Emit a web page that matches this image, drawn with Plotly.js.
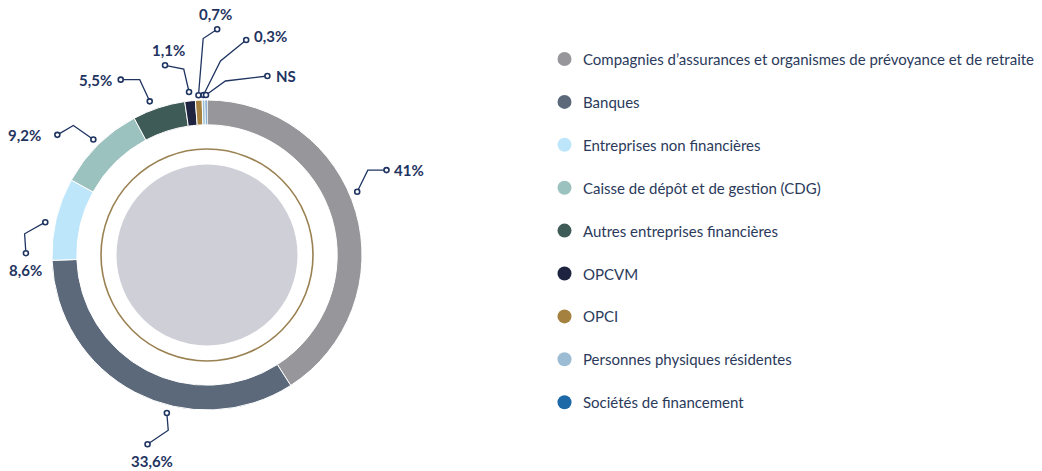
<!DOCTYPE html>
<html>
<head>
<meta charset="utf-8">
<script src="https://cdn.plot.ly/plotly-3.0.1.min.js"></script>
<style>html,body{margin:0;padding:0;background:#fff;}#chart{width:1042px;height:471px;}</style>
</head>
<body>
<div id="chart"></div>
<script>
// ---- data ----
const categories = [
  "Compagnies d\u2019assurances et organismes de prévoyance et de retraite",
  "Banques",
  "Entreprises non financières",
  "Caisse de dépôt et de gestion (CDG)",
  "Autres entreprises financières",
  "OPCVM",
  "OPCI",
  "Personnes physiques résidentes",
  "Sociétés de financement"
];
const values = [41, 33.6, 8.6, 9.2, 5.5, 1.1, 0.7, 0.3, 0.2];
const valueLabels = ["41%", "33,6%", "8,6%", "9,2%", "5,5%", "1,1%", "0,7%", "0,3%", "NS"];

// ---- styles ----
const colors = ["#97979b", "#5b697b", "#bee6fb", "#9cc2c0", "#3f5b57", "#1e2440", "#a5813f", "#9bbcd2", "#1d69a7"];
const W = 1042, H = 471;
const CX = 207, CY = 255, R = 155;
const labelColor = "#1f3461";
const legendTextColor = "#2b3a5b";

// label leader layout: [angle nudge (deg), elbow dx, elbow dy, end dx, end dy, text anchor, text dx, text dy]
const leader = [
  [-6.5, 10.6, -21.6, 29.3, -21.6, "left", 5, 0],
  [-13.4, 1.4, 17.3, -19.3, 31.3, "center", 4, 17],
  [-2, -20.7, 11.6, -19.4, 31, "center", 0, 17],
  [0, -20, -14, -36, -4.7, "right", -14, 0],
  [-2.3, -10, -21.7, -29, -21.7, "right", -7, 0],
  [0, -5.3, -23, -24, -26.7, "center", 3, -15],
  [0, 4.7, -56.7, 18.7, -66, "center", -2, -15],
  [0, 17, -34, 42.7, -55, "left", 6, -4],
  [0, 19.4, -14, 61.4, -19, "left", 7, 0]
];
const startR = [163, 163, 165, 162, 164, 164, 160, 160, 160];

const total = values.reduce((a, b) => a + b, 0);
let cum = 0;
const lineX = [], lineY = [], dotX = [], dotY = [], annotations = [];
values.forEach((v, i) => {
  const mid = (cum + v / 2) / total * 360 + leader[i][0];
  cum += v;
  const th = (90 - mid) * Math.PI / 180;
  const sx = CX + startR[i] * Math.cos(th), sy = CY - startR[i] * Math.sin(th);
  const ex = sx + leader[i][1], ey = sy + leader[i][2];
  const fx = sx + leader[i][3], fy = sy + leader[i][4];
  lineX.push(sx, ex, fx, null); lineY.push(sy, ey, fy, null);
  dotX.push(sx, fx); dotY.push(sy, fy);
  annotations.push({
    x: fx + leader[i][6], y: fy + leader[i][7], xref: "x", yref: "y",
    text: "<b>" + valueLabels[i] + "</b>", showarrow: false,
    xanchor: leader[i][5], yanchor: "middle",
    font: {family: "Lato, sans-serif", size: 15, color: labelColor}
  });
});

// legend built from categories
const LX = 564.5, LY0 = 59, LDY = 42.9;
const legendX = categories.map(() => LX);
const legendY = categories.map((c, i) => LY0 + i * LDY);
categories.forEach((c, i) => {
  annotations.push({
    x: LX + 16, y: legendY[i], xref: "x", yref: "y", text: c, showarrow: false,
    xanchor: "left", yanchor: "middle",
    font: {family: "Lato, sans-serif", size: 15, color: legendTextColor}
  });
});

const traces = [
  {
    type: "pie", values: values, labels: categories, sort: false, direction: "clockwise",
    rotation: 0, hole: 0.84, textinfo: "none", hoverinfo: "label+percent",
    marker: {colors: colors, line: {color: "#ffffff", width: 1}},
    domain: {x: [(CX - R) / W, (CX + R) / W], y: [(H - CY - R) / H, (H - CY + R) / H]},
    showlegend: false
  },
  {
    type: "scatter", mode: "lines", x: lineX, y: lineY, xaxis: "x", yaxis: "y",
    line: {color: labelColor, width: 1.3}, hoverinfo: "skip", showlegend: false
  },
  {
    type: "scatter", mode: "markers", x: dotX, y: dotY,
    marker: {size: 5, color: "#ffffff", line: {color: labelColor, width: 1.6}},
    hoverinfo: "skip", showlegend: false
  },
  {
    type: "scatter", mode: "markers", x: legendX, y: legendY,
    marker: {size: 14, color: colors, symbol: "circle"},
    hoverinfo: "skip", showlegend: false
  }
];

const layout = {
  width: W, height: H, margin: {l: 0, r: 0, t: 0, b: 0},
  paper_bgcolor: "#ffffff", plot_bgcolor: "rgba(0,0,0,0)",
  xaxis: {range: [0, W], visible: false, fixedrange: true},
  yaxis: {range: [H, 0], visible: false, fixedrange: true},
  showlegend: false,
  shapes: [
    {type: "circle", xref: "x", yref: "y", x0: CX - 90.5, x1: CX + 90.5, y0: CY - 90.5, y1: CY + 90.5,
      fillcolor: "#cfcfd7", line: {width: 0}, layer: "below"},
    {type: "circle", xref: "x", yref: "y", x0: CX - 106, x1: CX + 106, y0: CY - 106, y1: CY + 106,
      fillcolor: "rgba(0,0,0,0)", line: {color: "#9a8152", width: 1.6}, layer: "below"}
  ],
  annotations: annotations
};

Plotly.newPlot("chart", traces, layout, {displayModeBar: false, staticPlot: true});
</script>
</body>
</html>
